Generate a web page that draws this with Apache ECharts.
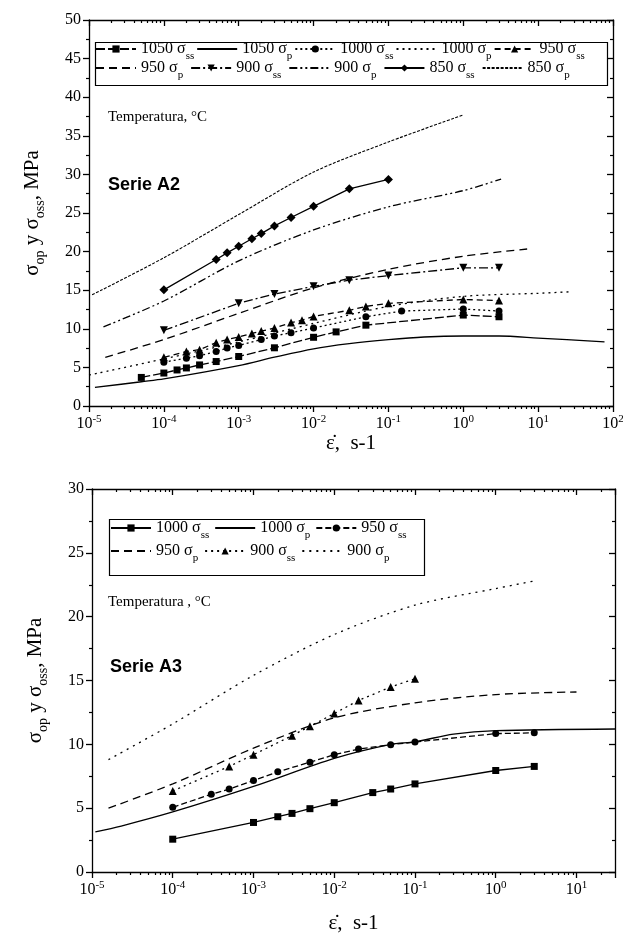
<!DOCTYPE html>
<html><head><meta charset="utf-8">
<script src="https://cdn.jsdelivr.net/npm/echarts@6/dist/echarts.min.js"></script>
<style>html,body{margin:0;padding:0;background:#fff}#c{width:623px;height:945px}</style>
</head><body><div id="c"></div>
<script>
// ===== Serie A2 : [strain rate (s-1), stress (MPa)] =====
const a2_1050_ss = [[5e-5,3.7],[1e-4,4.27],[1.5e-4,4.67],[2e-4,4.93],[3e-4,5.32],[5e-4,5.76],[1e-3,6.41],[3e-3,7.54],[1e-2,8.9],[2e-2,9.6],[5e-2,10.47],[1,11.78],[3,11.56]];
const a2_1050_p  = [[1.2e-5,2.4],[5e-5,3.14],[1e-4,3.5],[1e-3,5.23],[3e-3,6.32],[1e-2,7.41],[3e-2,8.07],[1e-1,8.59],[3e-1,8.94],[1,9.07],[3,9.07],[10,8.8],[77,8.3]];
const a2_1000_ss = [[1e-4,5.67],[2e-4,6.2],[3e-4,6.5],[5e-4,7.07],[7e-4,7.5],[1e-3,7.85],[2e-3,8.6],[3e-3,9.07],[5e-3,9.5],[1e-2,10.1],[5e-2,11.56],[0.15,12.3],[1,12.56],[3,12.3]];
const a2_1000_p  = [[1e-5,4.0],[1e-4,6.1],[1e-3,8.3],[1e-2,10.7],[1e-1,12.9],[1,14.2],[10,14.6],[28,14.8]];
const a2_950_ss  = [[1e-4,6.3],[2e-4,7.07],[3e-4,7.3],[5e-4,8.2],[7e-4,8.6],[1e-3,8.94],[1.5e-3,9.4],[2e-3,9.7],[3e-3,10.1],[5e-3,10.8],[7e-3,11.1],[1e-2,11.6],[3e-2,12.4],[5e-2,12.9],[1e-1,13.3],[1,13.8],[3,13.65]];
const a2_950_p   = [[1.65e-5,6.3],[1e-4,8.6],[1e-3,12.0],[1e-2,15.3],[1e-1,17.7],[1,19.4],[8.3,20.4]];
const a2_900_ss  = [[1e-4,9.8],[1e-3,13.3],[3e-3,14.5],[1e-2,15.5],[3e-2,16.3],[1e-1,16.9],[1,17.9],[3,17.9]];
const a2_900_p   = [[1.56e-5,10.25],[1e-4,13.6],[1e-3,18.8],[1e-2,22.8],[1e-1,25.8],[1,27.9],[3.2,29.4]];
const a2_850_ss  = [[1e-4,15.05],[5e-4,18.97],[7e-4,19.84],[1e-3,20.7],[1.5e-3,21.67],[2e-3,22.33],[3e-3,23.33],[5e-3,24.42],[1e-2,25.86],[3e-2,28.13],[1e-1,29.35]];
const a2_850_p   = [[1.1e-5,14.4],[1e-4,19.2],[1e-3,24.8],[1e-2,30.3],[1e-1,34.2],[1,37.7]];

// ===== Serie A3 =====
const a3_1000_ss = [[1e-4,2.57],[1e-3,3.88],[2e-3,4.33],[3e-3,4.59],[5e-3,4.96],[1e-2,5.43],[3e-2,6.22],[5e-2,6.5],[1e-1,6.9],[1,7.95],[3,8.27]];
const a3_1000_p  = [[1.1e-5,3.15],[2.3e-5,3.6],[1e-4,4.7],[1e-3,6.7],[1e-2,8.9],[5e-2,10.0],[1e-1,10.2],[0.3,10.8],[1,11.07],[30,11.2]];
const a3_950_ss  = [[1e-4,5.07],[3e-4,6.09],[5e-4,6.5],[1e-3,7.17],[2e-3,7.85],[5e-3,8.6],[1e-2,9.19],[2e-2,9.63],[5e-2,9.97],[1e-1,10.18],[1,10.84],[3,10.9]];
const a3_950_p   = [[1.6e-5,5.0],[1e-4,6.9],[1e-3,9.7],[1e-2,12.07],[1e-1,13.25],[1,13.9],[10,14.1]];
const a3_900_ss  = [[1e-4,6.35],[5e-4,8.27],[1e-3,9.19],[3e-3,10.68],[5e-3,11.42],[1e-2,12.41],[2e-2,13.44],[5e-2,14.49],[1e-1,15.14]];
const a3_900_p   = [[1.6e-5,8.8],[1e-4,11.6],[1e-3,15.4],[1e-2,18.6],[1e-1,20.9],[1,22.2],[3,22.8]];

// ===== Axis settings =====
const xMinA2 = 1e-5, xMaxA2 = 100;
const xMinA3 = 1e-5, xMaxA3 = 30;
const yMaxA2 = 50, yMaxA3 = 30, yStep = 5;

const SERIF = '"Liberation Serif","Times New Roman",serif';
const SANS = '"Liberation Sans",Arial,sans-serif';
const K = '#000';
const A3 = '\u200b'; // make A3 names unique

function expLabel(v) {
  const e = Math.log10(v), r = Math.round(e);
  if (Math.abs(e - r) > 1e-6) return '';
  return '{t|10}{p|' + r + '}';
}
function minorValues(max) {
  const out = [];
  for (let d = -5; d <= 2; d++) for (let m = 2; m <= 9; m++) {
    const v = +(m * Math.pow(10, d)).toPrecision(3);
    if (v < max) out.push(v);
  }
  return out;
}
const xRich = {
  t: {fontFamily: SERIF, fontSize: 16, color: K},
  p: {fontFamily: SERIF, fontSize: 11, color: K, padding: [0, 0, 9, 0]}
};
function logAxes(gi, min, max, gap) {
  const base = {type: 'log', gridIndex: gi, min: min, max: max, logBase: 10, splitLine: {show: false}, silent: true};
  const line = {show: true, lineStyle: {color: K, width: 1.3}};
  const mv = minorValues(max);
  return [
    Object.assign({}, base, {position: 'bottom', interval: 1, axisLine: line,
      axisTick: {show: true, length: 6, lineStyle: {color: K, width: 1.3}},
      axisLabel: {show: true, margin: 8, formatter: expLabel, rich: xRich, showMinLabel: true, showMaxLabel: true, hideOverlap: false},
      name: 'ε\u0307,  s-1', nameLocation: 'middle', nameGap: gap,
      nameTextStyle: {fontFamily: SERIF, fontSize: 21, color: K}}),
    Object.assign({}, base, {position: 'bottom', axisLine: {show: false}, axisLabel: {show: false},
      axisTick: {show: true, length: 3, customValues: mv, lineStyle: {color: K, width: 1.2}}}),
    Object.assign({}, base, {position: 'top', interval: 1, axisLine: line, axisLabel: {show: false},
      axisTick: {show: true, inside: true, length: 6, lineStyle: {color: K, width: 1.3}}}),
    Object.assign({}, base, {position: 'top', axisLine: {show: false}, axisLabel: {show: false},
      axisTick: {show: true, inside: true, length: 3, customValues: mv, lineStyle: {color: K, width: 1.2}}})
  ];
}
function valAxes(gi, max) {
  const line = {show: true, lineStyle: {color: K, width: 1.3}};
  return [
    {type: 'value', gridIndex: gi, position: 'left', min: 0, max: max, interval: yStep, splitLine: {show: false},
      axisLine: line, axisTick: {show: true, length: 6, lineStyle: {color: K, width: 1.3}},
      minorTick: {show: true, splitNumber: 2, length: 3, lineStyle: {color: K, width: 1.2}},
      axisLabel: {fontFamily: SERIF, fontSize: 16, color: K, margin: 8},
      name: '{t|σ}{s|op}{t| y σ}{s|oss}{t|, MPa}', nameLocation: 'middle', nameGap: 42, nameRotate: 90,
      nameTextStyle: {fontFamily: SERIF, fontSize: 21, color: K, rich: {
        t: {fontFamily: SERIF, fontSize: 21, color: K},
        s: {fontFamily: SERIF, fontSize: 14, color: K, padding: [15, 0, 0, 0]}}}},
    {type: 'value', gridIndex: gi, position: 'right', min: 0, max: max, interval: yStep, splitLine: {show: false},
      axisLine: line, axisLabel: {show: false},
      axisTick: {show: true, inside: true, length: 6, lineStyle: {color: K, width: 1.3}},
      minorTick: {show: true, splitNumber: 2, length: 3, lineStyle: {color: K, width: 1.2}}}
  ];
}

function ser(name, data, xi, yi, dash, symbol, size, extra) {
  const s = {
    name: name, type: 'line', data: data, xAxisIndex: xi, yAxisIndex: yi,
    symbol: symbol || 'none', symbolSize: size || 7, showSymbol: !!symbol,
    lineStyle: {color: K, width: 1.3, type: dash || 'solid'},
    itemStyle: {color: K}, emphasis: {disabled: true}, silent: true, z: 3
  };
  if (!symbol) { s.smooth = 0.3; }
  return Object.assign(s, extra || {});
}

const series = [
  ser('1050 σss', a2_1050_ss, 0, 0, [9, 3], 'rect', 7),
  ser('1050 σp',  a2_1050_p,  0, 0, 'solid'),
  ser('1000 σss', a2_1000_ss, 0, 0, [2, 3], 'circle', 7),
  ser('1000 σp',  a2_1000_p,  0, 0, [2, 4]),
  ser('950 σss',  a2_950_ss,  0, 0, [6, 4], 'triangle', 8),
  ser('950 σp',   a2_950_p,   0, 0, [8, 5]),
  ser('900 σss',  a2_900_ss,  0, 0, [9, 3, 2, 3], 'triangle', 8, {symbolRotate: 180}),
  ser('900 σp',   a2_900_p,   0, 0, [8, 3, 2, 3, 2, 3]),
  ser('850 σss',  a2_850_ss,  0, 0, 'solid', 'diamond', 9),
  ser('850 σp',   a2_850_p,   0, 0, [3, 1.5], null, null, {lineStyle: {color: K, width: 1.1, type: [3, 1.5]}}),

  ser('1000 σss' + A3, a3_1000_ss, 4, 2, 'solid', 'rect', 7),
  ser('1000 σp' + A3,  a3_1000_p,  4, 2, 'solid'),
  ser('950 σss' + A3,  a3_950_ss,  4, 2, [6, 3], 'circle', 7),
  ser('950 σp' + A3,   a3_950_p,   4, 2, [8, 5]),
  ser('900 σss' + A3,  a3_900_ss,  4, 2, [2, 4], 'triangle', 8),
  ser('900 σp' + A3,   a3_900_p,   4, 2, [2, 5])
];

function legendFmt(name) {
  const n = name.replace(A3, '');
  const m = n.match(/^(\d+) σ(\w+)$/);
  return '{t|' + m[1] + ' σ}{s|' + m[2] + '}';
}
function legendItem(name) {
  // curves without markers: hide the legend marker, keep the line sample
  if (/σp/.test(name)) return {name: name, itemStyle: {opacity: 0}};
  return {name: name};
}
function legend(names, left, top, gap) {
  return {
    data: names.map(legendItem), left: left, top: top, orient: 'horizontal', padding: 0,
    itemWidth: 40, itemHeight: 9, itemGap: gap, selectedMode: false,
    formatter: legendFmt,
    textStyle: {fontFamily: SERIF, fontSize: 16, color: K, rich: {
      t: {fontFamily: SERIF, fontSize: 16, color: K},
      s: {fontFamily: SERIF, fontSize: 11, color: K, padding: [14, 0, 0, 0]}}}
  };
}

const option = {
  animation: false,
  backgroundColor: '#fff',
  grid: [
    {left: 89, top: 20, width: 524, height: 386, containLabel: false, outerBoundsMode: 'none'},
    {left: 92, top: 489, width: 523, height: 383, containLabel: false, outerBoundsMode: 'none'}
  ],
  xAxis: logAxes(0, xMinA2, xMaxA2, 24).concat(logAxes(1, xMinA3, xMaxA3, 41)),
  yAxis: valAxes(0, yMaxA2).concat(valAxes(1, yMaxA3)),
  legend: [
    legend(['1050 σss', '1050 σp', '1000 σss', '1000 σp', '950 σss'], 95, 41, 2),
    legend(['950 σp', '900 σss', '900 σp', '850 σss', '850 σp'], 95, 60, 7),
    legend(['1000 σss' + A3, '1000 σp' + A3, '950 σss' + A3], 110, 520, 5),
    legend(['950 σp' + A3, '900 σss' + A3, '900 σp' + A3], 110, 543, 6)
  ],
  graphic: [
    {type: 'rect', left: 93, top: 40, shape: {width: 512, height: 43}, style: {fill: 'none', stroke: K, lineWidth: 1.2}, silent: true},
    {type: 'rect', left: 107, top: 517, shape: {width: 315, height: 56}, style: {fill: 'none', stroke: K, lineWidth: 1.2}, silent: true},
    {type: 'text', left: 108, top: 110, style: {text: 'Temperatura, °C', font: '15px ' + SERIF, fill: K}, silent: true},
    {type: 'text', left: 108, top: 176, style: {text: 'Serie A2', font: 'bold 18px ' + SANS, fill: K}, silent: true},
    {type: 'text', left: 108, top: 595, style: {text: 'Temperatura , °C', font: '15px ' + SERIF, fill: K}, silent: true},
    {type: 'text', left: 110, top: 658, style: {text: 'Serie A3', font: 'bold 18px ' + SANS, fill: K}, silent: true}
  ],
  series: series
};

const chart = echarts.init(document.getElementById('c'), null, {renderer: 'canvas'});
chart.setOption(option);
</script>
</body></html>
